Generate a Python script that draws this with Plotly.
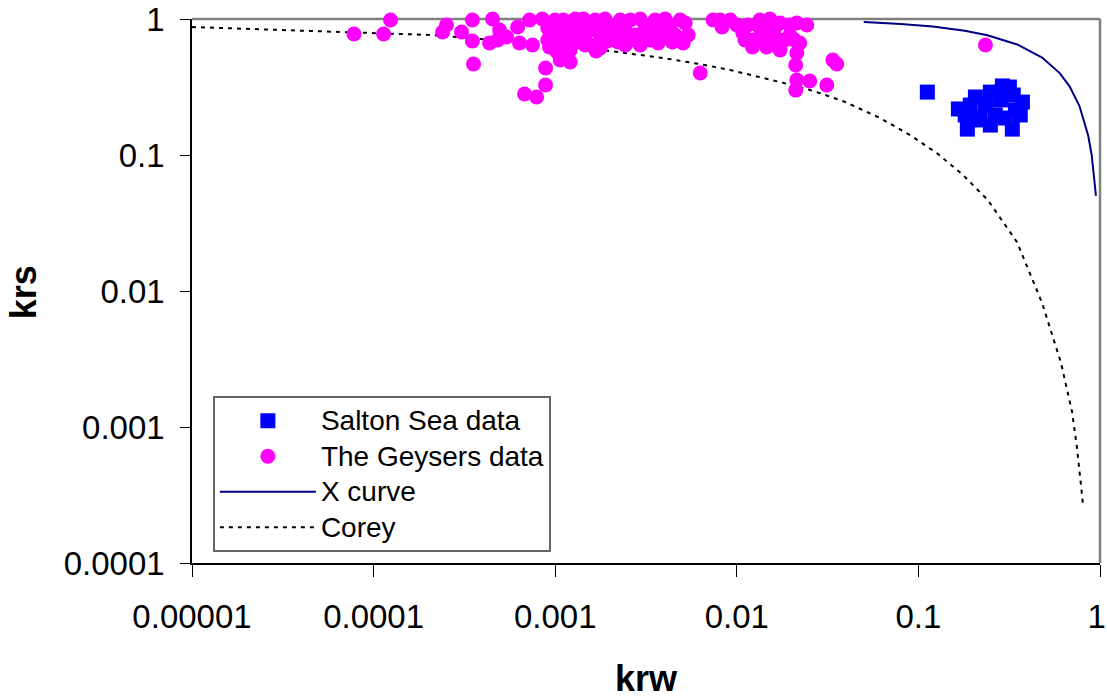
import plotly.graph_objects as go

# ---------------- data ----------------
x_ticks = [1e-5, 1e-4, 1e-3, 1e-2, 1e-1, 1]
x_ticktext = ["0.00001", "0.0001", "0.001", "0.01", "0.1", "1\u2009"]
y_ticks = [1e-4, 1e-3, 1e-2, 1e-1, 1]
y_ticktext = ["0.0001", "0.001", "0.01", "0.1", "1"]

salton_krw = [0.112, 0.166, 0.186, 0.329, 0.374, 0.317, 0.249, 0.206, 0.193, 0.234,
              0.283, 0.342, 0.265, 0.219, 0.301, 0.249, 0.206, 0.283, 0.333, 0.181,
              0.364, 0.290]
salton_krs = [0.290, 0.218, 0.155, 0.155, 0.245, 0.316, 0.290, 0.267, 0.233, 0.233,
              0.254, 0.214, 0.197, 0.187, 0.187, 0.166, 0.181, 0.290, 0.276, 0.197,
              0.197, 0.322]

geysers_krw = [7.8e-5, 1.135e-4, 1.24e-4, 2.40e-4, 2.52e-4, 3.05e-4, 3.50e-4, 3.50e-4,
               3.55e-4, 4.35e-4, 4.52e-4, 4.94e-4, 4.82e-4, 5.40e-4, 6.21e-4, 6.36e-4,
               7.23e-4, 7.50e-4, 6.78e-4, 7.90e-4, 8.85e-4, 8.85e-4, 9.3e-4, 1.025e-3,
               8.5e-4, 1.0e-3, 1.11e-3, 1.21e-3, 1.32e-3, 1.21e-3, 1.43e-3, 1.56e-3,
               1.66e-3, 1.77e-3, 1.68e-3, 1.88e-3, 2.01e-3, 2.14e-3, 2.28e-3, 2.43e-3,
               2.59e-3, 2.76e-3, 2.94e-3, 3.13e-3, 3.34e-3, 3.55e-3, 3.69e-3, 3.79e-3,
               4.03e-3, 4.30e-3, 4.58e-3, 4.88e-3, 5.07e-3, 5.20e-3, 1.065e-3, 1.135e-3,
               1.29e-3, 1.46e-3, 9.5e-4, 9.1e-4, 1.0e-3, 1.56e-3, 1.88e-3, 1.77e-3,
               2.59e-3, 2.94e-3, 2.28e-3, 1.29e-3, 2.14e-3, 3.55e-3, 4.30e-3,
               9.1e-4, 1.09e-3, 1.18e-3, 1.37e-3, 1.46e-3, 1.73e-3, 2.06e-3, 2.43e-3,
               2.52e-3, 2.94e-3, 3.34e-3, 4.03e-3, 4.41e-3, 2.22e-3, 1.88e-3, 1.21e-3,
               1.065e-3, 5.40e-3,
               7.4e-3, 8.3e-3, 1.0e-2, 1.08e-2, 1.22e-2, 1.22e-2, 1.34e-2, 1.46e-2,
               1.52e-2, 1.73e-2, 1.73e-2, 2.14e-2, 2.43e-2, 2.22e-2, 2.14e-2, 2.11e-2,
               2.14e-2, 2.52e-2, 2.11e-2, 3.13e-2, 3.38e-2, 3.55e-2, 1.52e-2, 1.96e-2,
               1.62e-2, 1.43e-2, 1.15e-2, 1.84e-2, 1.34e-2, 9.2e-3, 6.29e-3,
               8.1e-3, 1.62e-2, 1.96e-2, 1.34e-2, 1.11e-2, 1.73e-2, 2.08e-2, 0.234]
geysers_krs = [0.776, 0.776, 0.983, 0.802, 0.903, 0.802, 0.983, 0.689,
               0.467, 0.666, 1.0, 0.830, 0.701, 0.737, 0.873, 0.666,
               0.983, 0.644, 0.281, 0.267, 0.436, 0.327, 0.622, 0.572,
               1.0, 0.983, 0.983, 0.903, 0.677, 0.483, 1.0, 0.830,
               0.983, 0.763, 0.582, 1.0, 0.701, 0.903, 0.830, 0.644,
               0.983, 0.763, 1.0, 0.859, 0.701, 0.983, 0.666, 0.830,
               1.0, 0.903, 0.763, 0.983, 0.666, 0.935, 0.763, 0.644,
               0.802, 0.644, 0.725, 0.859, 0.612, 0.644, 0.830, 0.612,
               0.701, 0.644, 0.983, 1.0, 0.790, 0.780, 0.720,
               0.701, 0.859, 0.725, 0.903, 0.763, 0.859, 0.802, 0.903,
               0.763, 0.763, 0.903, 0.763, 0.677, 0.677, 0.677, 0.592,
               0.500, 0.763,
               0.983, 0.873, 0.903, 0.789, 0.701, 0.622, 0.983, 0.622,
               1.0, 0.935, 0.592, 0.935, 0.903, 0.666, 0.563, 0.459,
               0.356, 0.350, 0.300, 0.327, 0.500, 0.467, 0.763, 0.763,
               0.644, 0.830, 0.903, 0.701, 0.725, 0.983, 0.401,
               0.983, 0.859, 0.903, 0.859, 0.701, 0.701, 0.701, 0.644]

xcurve_krw = [0.05, 0.08, 0.12, 0.18, 0.24, 0.35, 0.48, 0.60, 0.68, 0.77, 0.86, 0.90, 0.95]
xcurve_krs = [0.95, 0.92, 0.88, 0.82, 0.76, 0.65, 0.52, 0.40, 0.32, 0.23, 0.14, 0.10, 0.05]

corey_krw = [1e-5, 3.47e-5, 7.1e-5, 2.05e-4, 3.86e-4, 1.37e-3, 2.42e-3, 3.93e-3, 6.68e-3,
             9.18e-3, 0.0173, 0.0263, 0.0385, 0.0615, 0.090, 0.128, 0.176, 0.241, 0.349,
             0.480, 0.610, 0.702, 0.746, 0.805]
corey_krs = [0.873, 0.830, 0.802, 0.763, 0.713, 0.623, 0.562, 0.517, 0.459,
             0.422, 0.344, 0.296, 0.249, 0.187, 0.140, 0.102, 0.0713, 0.0467, 0.0229,
             0.00816, 0.00296, 0.00129, 0.000713, 0.000276]

FONT = "Liberation Sans, Arial, sans-serif"
LEG = '<span style="font-size:28px">%s</span>'

fig = go.Figure()

fig.add_trace(go.Scatter(
    x=corey_krw, y=corey_krs, mode="lines", name=LEG % "Corey", legendrank=4,
    line=dict(color="black", width=2, dash="4px,5px"), cliponaxis=False))
fig.add_trace(go.Scatter(
    x=xcurve_krw, y=xcurve_krs, mode="lines", name=LEG % "X curve", legendrank=3,
    line=dict(color="#000080", width=2), cliponaxis=False))
fig.add_trace(go.Scatter(
    x=salton_krw, y=salton_krs, mode="markers", name=LEG % "Salton Sea data", legendrank=1,
    marker=dict(symbol="square", size=15, color="#0000FF"), cliponaxis=False))
fig.add_trace(go.Scatter(
    x=geysers_krw, y=geysers_krs, mode="markers", name=LEG % "The Geysers data", legendrank=2,
    marker=dict(symbol="circle", size=15, color="#FF00FF"), cliponaxis=False))

fig.update_layout(
    width=1107, height=698,
    margin=dict(l=192, r=7, t=19, b=135),
    paper_bgcolor="white", plot_bgcolor="white",
    font=dict(family=FONT, color="black"),
    showlegend=True,
    legend=dict(
        x=0.023, y=0.307, xanchor="left", yanchor="top",
        bgcolor="white", bordercolor="#666666", borderwidth=2,
        font=dict(size=25, family=FONT, color="black"),
        itemwidth=96, traceorder="normal",
    ),
    xaxis=dict(
        type="log", range=[-5, 0], tickvals=x_ticks, ticktext=x_ticktext,
        ticks="outside", ticklen=12, tickcolor="black", tickwidth=1,
        showline=True, linecolor="black", linewidth=1.5,
        showgrid=False, zeroline=False, automargin=False,
        tickfont=dict(size=33, family=FONT, color="black"),
        ticklabelstandoff=12, ticklabeloverflow="allow",
    ),
    yaxis=dict(
        type="log", range=[-4, 0], tickvals=y_ticks, ticktext=y_ticktext,
        ticks="outside", ticklen=10, tickcolor="black", tickwidth=1,
        showline=True, linecolor="black", linewidth=1.5,
        showgrid=False, zeroline=False, automargin=False,
        tickfont=dict(size=33, family=FONT, color="black"),
        ticklabelstandoff=9, ticklabeloverflow="allow",
    ),
    shapes=[
        dict(type="line", xref="paper", yref="paper", x0=0, x1=1, y0=1, y1=1,
             line=dict(color="#808080", width=2.5), layer="below"),
        dict(type="line", xref="paper", yref="paper", x0=1, x1=1, y0=0, y1=1,
             line=dict(color="#808080", width=2.5), layer="below"),
    ],
    annotations=[
        dict(text="<b>krs</b>", xref="paper", yref="paper", x=-0.186, y=0.498,
             xanchor="center", yanchor="middle", textangle=-90, showarrow=False,
             font=dict(size=36, family=FONT, color="black")),
        dict(text="<b>krw</b>", xref="paper", yref="paper", x=0.5, y=-0.213,
             xanchor="center", yanchor="middle", showarrow=False,
             font=dict(size=36, family=FONT, color="black")),
    ],
)

fig.write_html("out.html")
